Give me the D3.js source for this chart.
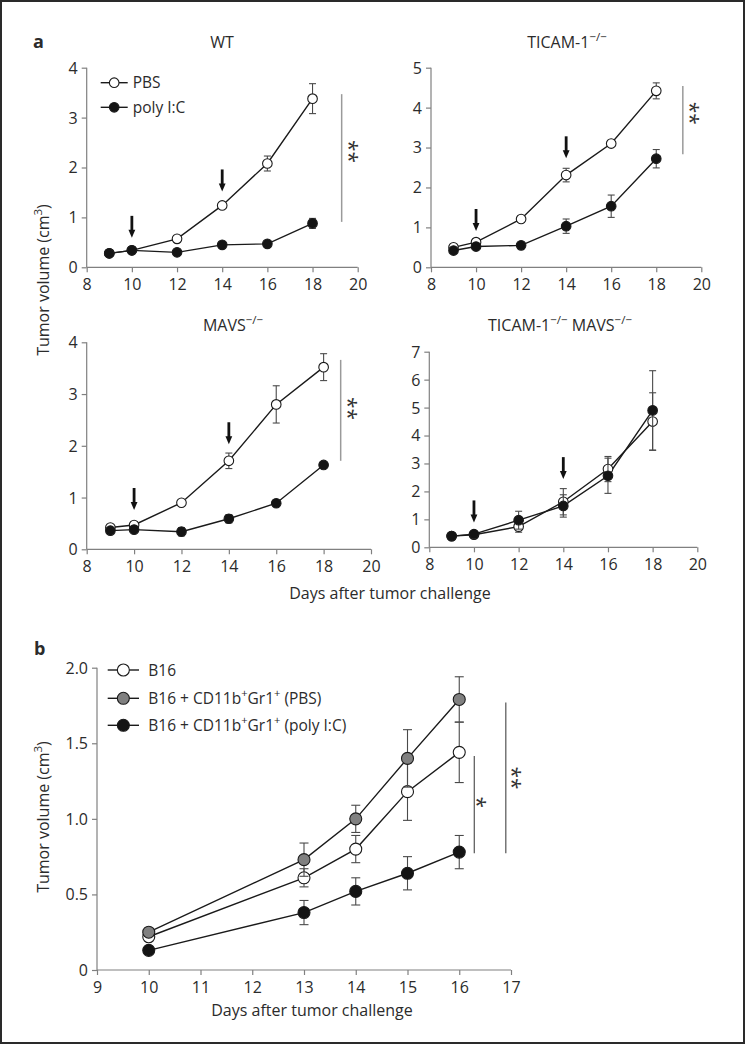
<!DOCTYPE html>
<html><head><meta charset="utf-8">
<script src="https://cdn.jsdelivr.net/npm/d3@7"></script>
<style>
html,body{margin:0;padding:0;background:#fff;}
svg text{font-family:"Open Sans",sans-serif;fill:#2b2b2b;}
</style></head>
<body>
<svg id="c" width="746" height="1045"></svg>
<script>
// ---------- DATA ----------
const daysA = [9, 10, 12, 14, 16, 18];
const xTicksA = [8, 10, 12, 14, 16, 18, 20];

const wtPBS      = [0.28, 0.34, 0.57, 1.24, 2.08, 3.38];
const wtPBSErr   = [0.00, 0.00, 0.03, 0.04, 0.15, 0.30];
const wtPoly     = [0.28, 0.34, 0.30, 0.45, 0.47, 0.88];
const wtPolyErr  = [0.00, 0.00, 0.00, 0.03, 0.03, 0.10];

const ticPBS     = [0.50, 0.63, 1.21, 2.31, 3.10, 4.42];
const ticPBSErr  = [0.03, 0.05, 0.08, 0.17, 0.05, 0.20];
const ticPoly    = [0.42, 0.52, 0.55, 1.03, 1.53, 2.72];
const ticPolyErr = [0.03, 0.04, 0.04, 0.18, 0.28, 0.23];

const mavPBS     = [0.42, 0.47, 0.90, 1.71, 2.80, 3.52];
const mavPBSErr  = [0.02, 0.03, 0.05, 0.15, 0.36, 0.26];
const mavPoly    = [0.36, 0.38, 0.34, 0.59, 0.89, 1.63];
const mavPolyErr = [0.02, 0.03, 0.08, 0.08, 0.04, 0.03];

const dkoPBS     = [0.40, 0.45, 0.74, 1.63, 2.80, 4.50];
const dkoPBSErr  = [0.03, 0.04, 0.20, 0.47, 0.45, 1.03];
const dkoPoly    = [0.40, 0.47, 0.97, 1.48, 2.56, 4.90];
const dkoPolyErr = [0.03, 0.04, 0.32, 0.40, 0.63, 1.42];

// injection arrows: day and tip value (data units)
const wtArrows  = [[10, 0.59], [14, 1.52]];
const ticArrows = [[10, 0.91], [14, 2.73]];
const mavArrows = [[10, 0.76], [14, 2.03]];
const dkoArrows = [[10, 0.89], [14, 2.44]];

const daysB = [10, 13, 14, 15, 16];
const xTicksB = [9, 10, 11, 12, 13, 14, 15, 16, 17];
const yTicksB = [0, 0.5, 1.0, 1.5, 2.0];
const b16       = [0.22, 0.61, 0.80, 1.18, 1.44];
const b16Err    = [0.02, 0.06, 0.09, 0.19, 0.20];
const b16PBS    = [0.25, 0.73, 1.00, 1.40, 1.79];
const b16PBSErr = [0.02, 0.11, 0.09, 0.19, 0.15];
const b16Poly   = [0.13, 0.38, 0.52, 0.64, 0.78];
const b16PolyErr= [0.01, 0.08, 0.09, 0.11, 0.11];

const legendA = ["PBS", "poly I:C"];
const legendB = ["B16", "B16 + CD11b|+|Gr1|+| (PBS)", "B16 + CD11b|+|Gr1|+| (poly I:C)"];

// ---------- DRAW ----------
const svg = d3.select("#c");
svg.append("rect").attr("x",1).attr("y",1).attr("width",743).attr("height",1042)
  .attr("fill","none").attr("stroke","#2a2a2a").attr("stroke-width",2);

const FS = 16;
const AX = "#808080";

function richText(sel, str, fs){
  const parts = str.split("|");
  parts.forEach((p,i)=>{
    if(!p) return;
    const t = sel.append("tspan").text(p);
    if(i%2===1){ t.attr("font-size",fs*0.72).attr("baseline-shift","super"); }
  });
  return sel;
}

function stars(g, x, yc, n, fs){
  const s = "*".repeat(n);
  g.append("text").attr("transform",`translate(${x - 0.52*fs},${yc}) rotate(90)`)
    .attr("text-anchor","middle").attr("font-size",fs).style("fill","#333").text(s);
}

function panel(o){
  const g = svg.append("g");
  const x = d3.scaleLinear().domain(o.xd).range(o.xr);
  const y = d3.scaleLinear().domain(o.yd).range(o.yr);
  const xa = d3.axisBottom(x).tickValues(o.xt).tickSize(5).tickFormat(o.xf||d3.format("d"));
  const ya = d3.axisLeft(y).tickValues(o.yt).tickSize(5).tickFormat(o.yf||d3.format("d"));
  const gx = g.append("g").attr("transform",`translate(0,${o.yr[0]})`).call(xa);
  const gy = g.append("g").attr("transform",`translate(${o.xr[0]},0)`).call(ya);
  [gx,gy].forEach(a=>{
    a.selectAll("path,line").attr("stroke",AX).attr("stroke-width",1.2);
    a.select(".domain").attr("d", a===gx ? `M${o.xr[0]},0H${o.xr[1]}` : `M0,${o.yr[0]}V${o.yr[1]}`);
    a.selectAll("text").attr("font-size",FS).style("font-family","Open Sans").style("fill","#2b2b2b");
  });
  gx.selectAll("text").attr("y",8).attr("dy","0.95em");
  gy.selectAll("text").attr("x",-9).attr("dy","0.34em");

  if(o.title){
    const t = g.append("text").attr("x",o.tx).attr("y",o.ty).attr("text-anchor","middle").attr("font-size",FS);
    richText(t, o.title, FS);
  }
  const line = d3.line().x(d=>x(d[0])).y(d=>y(d[1]));
  o.series.forEach(s=>{
    const pts = o.days.map((d,i)=>[d,s.v[i],s.e[i]]);
    g.append("path").attr("d",line(pts)).attr("fill","none").attr("stroke","#1a1a1a").attr("stroke-width",1.4);
  });
  o.series.forEach(s=>{
    const pts = o.days.map((d,i)=>[d,s.v[i],s.e[i]]);
    const eg = g.append("g").attr("stroke","#4a4a4a").attr("stroke-width",1.1);
    pts.filter(p=>p[2]>0).forEach(p=>{
      const cx = x(p[0]);
      eg.append("line").attr("x1",cx).attr("x2",cx).attr("y1",y(p[1]+p[2])).attr("y2",y(p[1]-p[2]));
      eg.append("line").attr("x1",cx-o.cap).attr("x2",cx+o.cap).attr("y1",y(p[1]+p[2])).attr("y2",y(p[1]+p[2]));
      eg.append("line").attr("x1",cx-o.cap).attr("x2",cx+o.cap).attr("y1",y(p[1]-p[2])).attr("y2",y(p[1]-p[2]));
    });
    g.append("g").selectAll("circle").data(pts).join("circle")
      .attr("cx",p=>x(p[0])).attr("cy",p=>y(p[1])).attr("r",o.r)
      .attr("fill",s.fill).attr("stroke","#1a1a1a").attr("stroke-width",1.1);
  });
  (o.arrows||[]).forEach(a=>{
    const ax = x(a[0]), tip = y(a[1]);
    g.append("line").attr("x1",ax).attr("x2",ax).attr("y1",tip-22).attr("y2",tip-7)
      .attr("stroke","#111").attr("stroke-width",2.8);
    g.append("path").attr("d",`M${ax-3.4},${tip-8}L${ax+3.4},${tip-8}L${ax},${tip}Z`).attr("fill","#111");
  });
  (o.sig||[]).forEach(s=>{
    g.append("line").attr("x1",x(s.x)).attr("x2",x(s.x)).attr("y1",y(s.y0)).attr("y2",y(s.y1))
      .attr("stroke",s.c).attr("stroke-width",s.w);
    stars(g, x(s.x)+s.dx, y(s.yc), s.n, 21);
  });
  if(o.legend){
    o.legend.forEach((lab,i)=>{
      const ly = o.legY[i];
      g.append("line").attr("x1",o.legX[0]).attr("x2",o.legX[1]).attr("y1",ly).attr("y2",ly)
        .attr("stroke","#1a1a1a").attr("stroke-width",1.4);
      g.append("circle").attr("cx",(o.legX[0]+o.legX[1])/2).attr("cy",ly).attr("r",o.r)
        .attr("fill",o.series[i].fill).attr("stroke","#1a1a1a").attr("stroke-width",1.1);
      const t = g.append("text").attr("x",o.legX[2]).attr("y",ly).attr("dy","0.36em").attr("font-size",o.lfs);
      richText(t, lab, o.lfs);
    });
  }
  return g;
}

const W = "#ffffff", K = "#141414", G = "#808080";

panel({xd:[8,20], xr:[86.7,357.7], yd:[0,4], yr:[267.3,67.7], xt:xTicksA, yt:[0,1,2,3,4],
  title:"WT", tx:222, ty:48, days:daysA, r:4.8, cap:3.5,
  series:[{v:wtPBS,e:wtPBSErr,fill:W},{v:wtPoly,e:wtPolyErr,fill:K}],
  arrows:wtArrows,
  sig:[{x:19.29, y0:3.47, y1:0.91, yc:2.32, n:2, dx:11, c:"#9a9a9a", w:1.5}],
  legend:legendA, lfs:15.5, legX:[100.7,127.7,132.7], legY:[82.7,107.3]});

panel({xd:[8,20], xr:[431,701.3], yd:[0,5], yr:[267.3,67.7], xt:xTicksA, yt:[0,1,2,3,4,5],
  title:"TICAM-1|−/−|", tx:567, ty:48, days:daysA, r:4.8, cap:3.5,
  series:[{v:ticPBS,e:ticPBSErr,fill:W},{v:ticPoly,e:ticPolyErr,fill:K}],
  arrows:ticArrows,
  sig:[{x:19.18, y0:4.54, y1:2.83, yc:3.86, n:2, dx:11, c:"#9a9a9a", w:1.5}]});

panel({xd:[8,20], xr:[86.7,371], yd:[0,4], yr:[549.3,342.3], xt:xTicksA, yt:[0,1,2,3,4],
  title:"MAVS|−/−|", tx:233, ty:331, days:daysA, r:4.8, cap:3.5,
  series:[{v:mavPBS,e:mavPBSErr,fill:W},{v:mavPoly,e:mavPolyErr,fill:K}],
  arrows:mavArrows,
  sig:[{x:18.72, y0:3.66, y1:1.71, yc:2.72, n:2, dx:11, c:"#9a9a9a", w:1.5}]});

panel({xd:[8,20], xr:[429.3,697.3], yd:[0,7], yr:[547.3,351.7], xt:xTicksA, yt:[0,1,2,3,4,5,6,7],
  title:"TICAM-1|−/−| MAVS|−/−|", tx:560, ty:331, days:daysA, r:4.8, cap:3.5,
  series:[{v:dkoPBS,e:dkoPBSErr,fill:W},{v:dkoPoly,e:dkoPolyErr,fill:K}],
  arrows:dkoArrows});

panel({xd:[9,17], xr:[97,511], yd:[0,2], yr:[970,667.7], xt:xTicksB, yt:yTicksB,
  yf:d=>d===0?"0":d3.format(".1f")(d),
  days:daysB, r:6, cap:4.5,
  series:[{v:b16,e:b16Err,fill:W},{v:b16PBS,e:b16PBSErr,fill:G},{v:b16Poly,e:b16PolyErr,fill:K}],
  sig:[{x:16.29, y0:1.415, y1:0.772, yc:1.11, n:1, dx:7, c:"#444", w:1.1},
       {x:16.9, y0:1.77, y1:0.772, yc:1.27, n:2, dx:10, c:"#444", w:1.1}],
  legend:legendB, lfs:15.5, legX:[107.7,139,148.3], legY:[670,698.3,725.3]});

svg.append("text").attr("x",33).attr("y",48).attr("font-size",18).attr("font-weight","bold").text("a");
svg.append("text").attr("x",34).attr("y",655).attr("font-size",18).attr("font-weight","bold").text("b");

function ylab(x,y,str){
  const t = svg.append("text").attr("transform",`translate(${x},${y}) rotate(-90)`)
    .attr("text-anchor","middle").attr("font-size",FS);
  richText(t,str,FS);
}
ylab(49, 280, "Tumor volume (cm|3|)");
ylab(49, 817, "Tumor volume (cm|3|)");
svg.append("text").attr("x",390).attr("y",599).attr("text-anchor","middle").attr("font-size",FS).text("Days after tumor challenge");
svg.append("text").attr("x",312).attr("y",1016).attr("text-anchor","middle").attr("font-size",FS).text("Days after tumor challenge");
</script>
</body></html>
